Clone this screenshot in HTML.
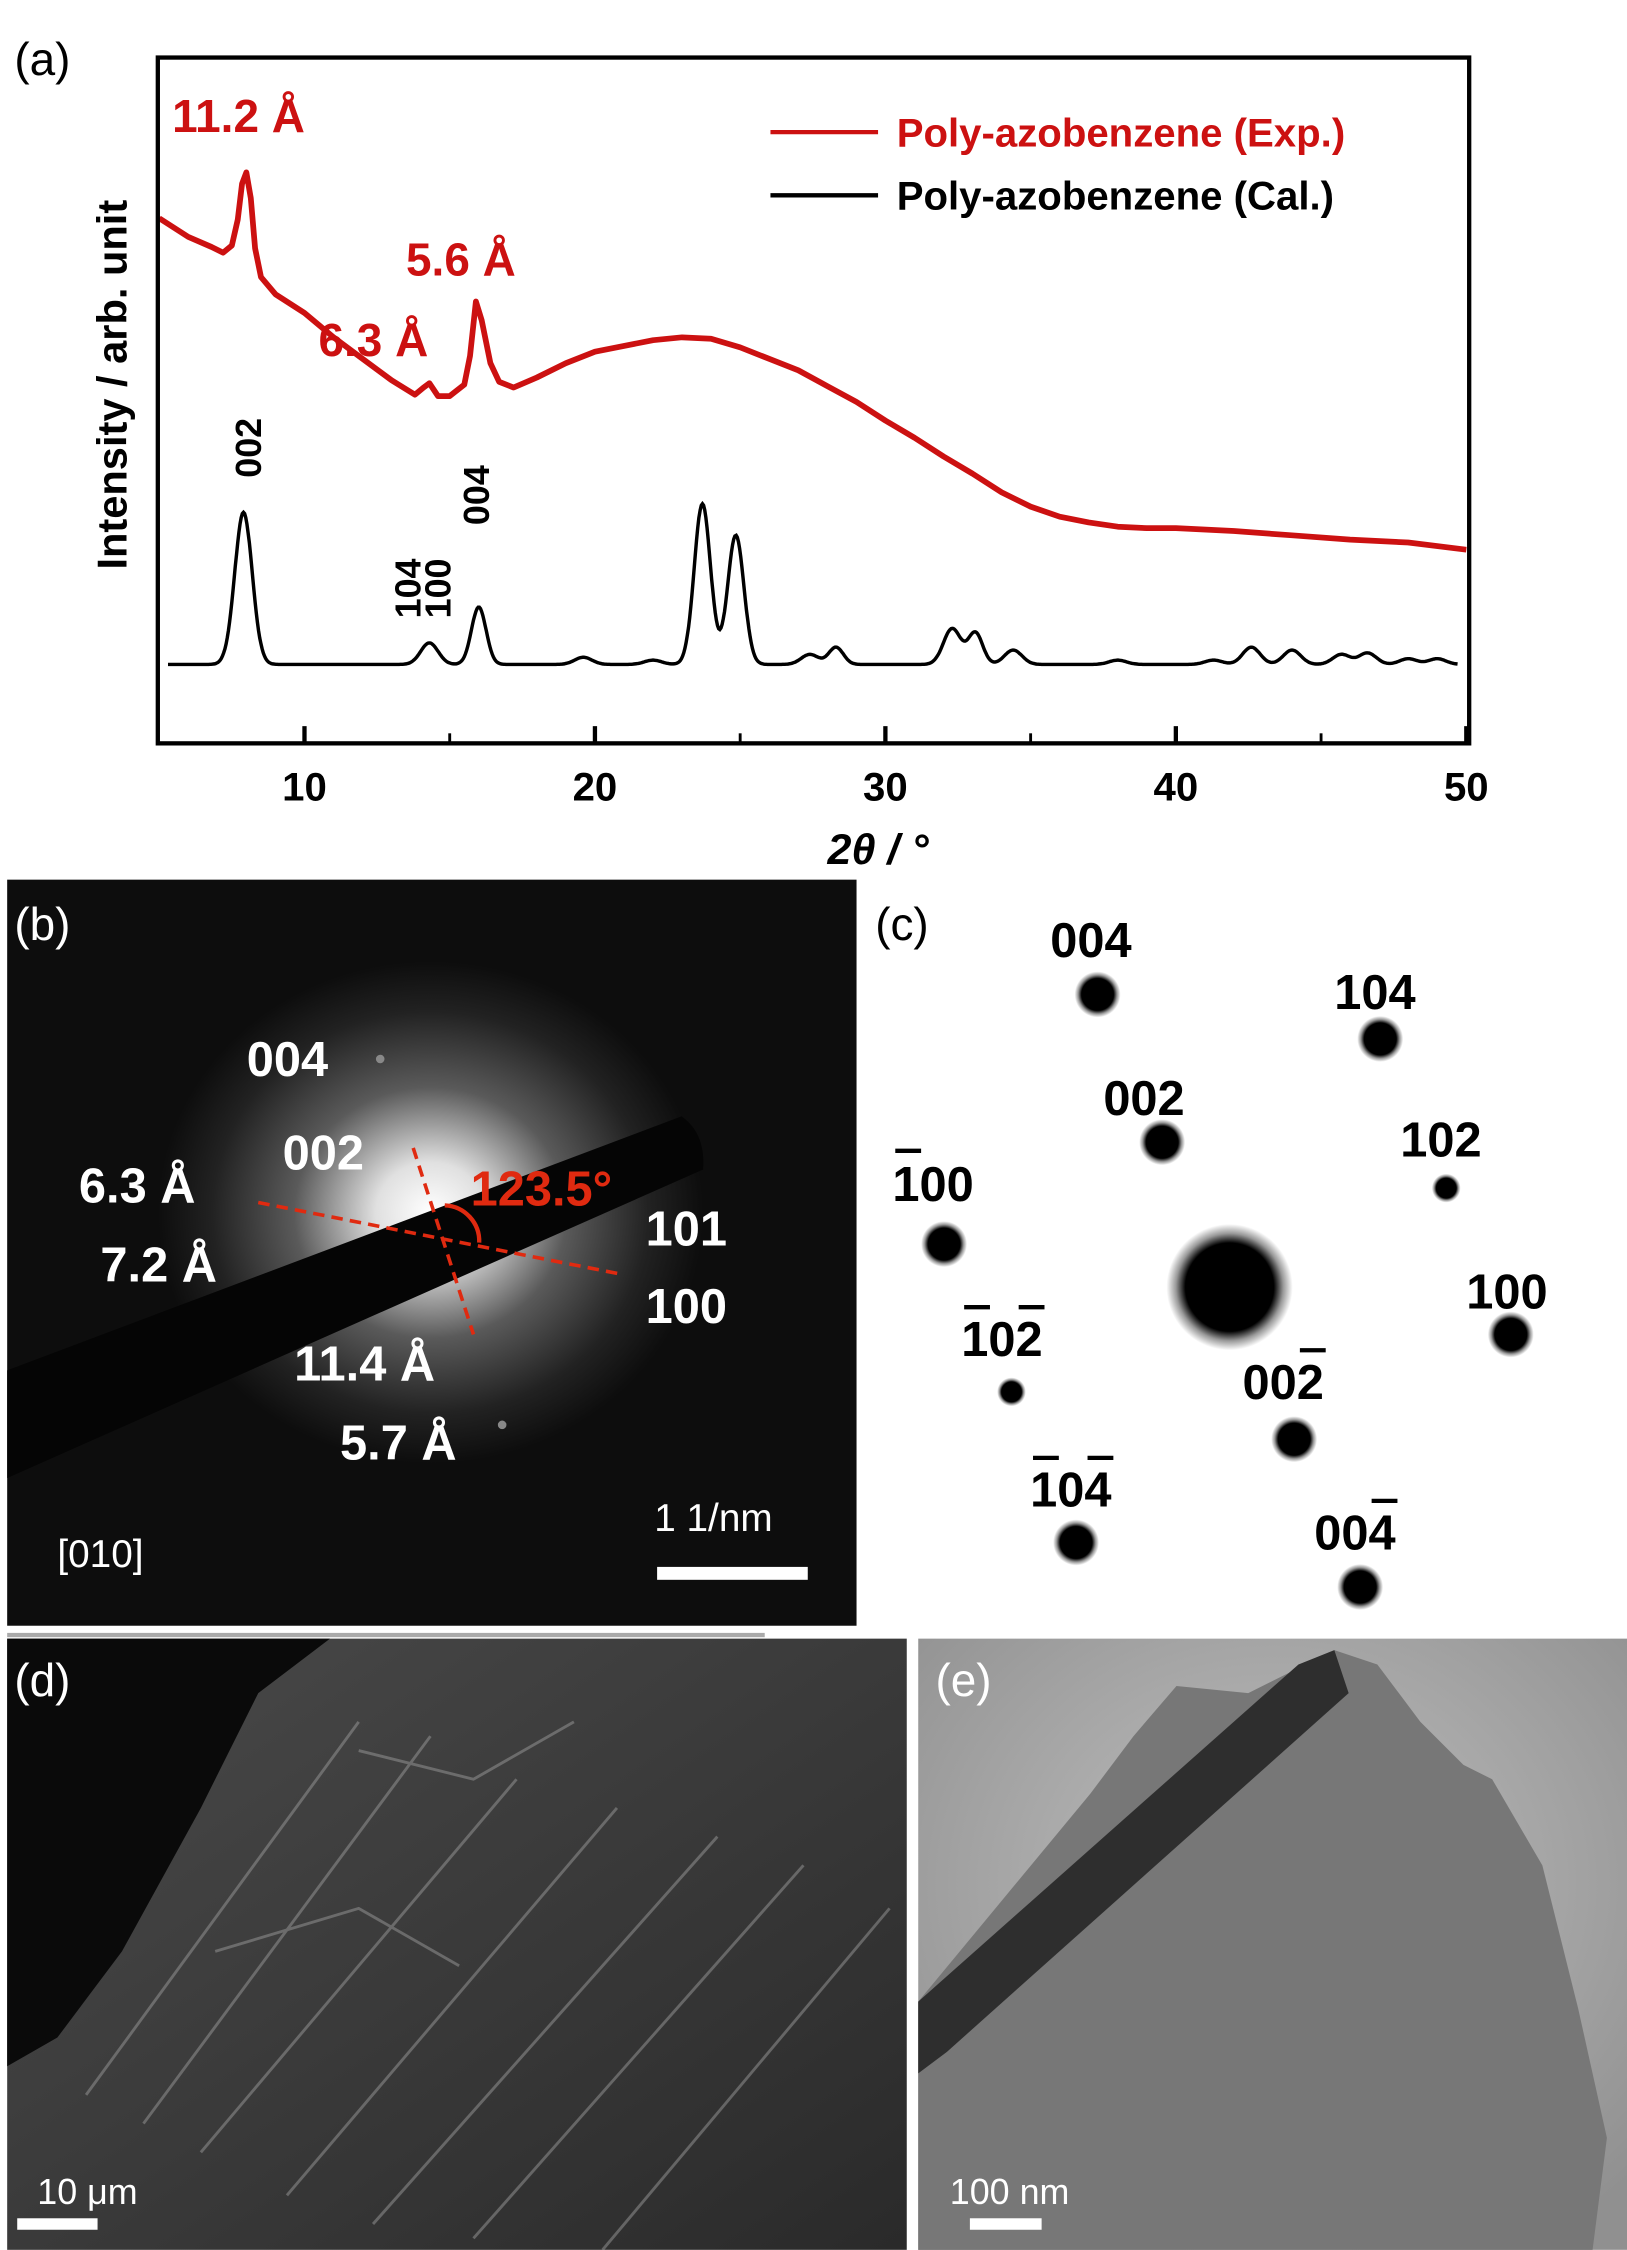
<!DOCTYPE html>
<html><head><meta charset="utf-8"><style>html,body{margin:0;padding:0;background:#fff}svg{display:block}</style></head>
<body>
<svg id="fig" width="1627" height="2250" viewBox="0 0 1134 1568" xmlns="http://www.w3.org/2000/svg" font-family="Liberation Sans, DejaVu Sans, sans-serif">
<defs>
<radialGradient id="glow" cx="0.5" cy="0.5" r="0.5">
<stop offset="0" stop-color="#fff"/><stop offset="0.2" stop-color="#e0e0e0"/><stop offset="0.5" stop-color="#5a5a5a"/><stop offset="0.8" stop-color="#222"/><stop offset="1" stop-color="#0d0d0d"/></radialGradient>
<radialGradient id="spot" cx="0.5" cy="0.5" r="0.5">
<stop offset="0" stop-color="#000"/><stop offset="0.7" stop-color="#000"/><stop offset="0.85" stop-color="#999"/><stop offset="1" stop-color="#fff"/></radialGradient>
<radialGradient id="tem" cx="0.5" cy="0.4" r="0.7">
<stop offset="0" stop-color="#c0c0c0"/><stop offset="1" stop-color="#909090"/></radialGradient>
<linearGradient id="sem" x1="0" y1="0" x2="1" y2="1">
<stop offset="0" stop-color="#4a4a4a"/><stop offset="0.5" stop-color="#3a3a3a"/><stop offset="1" stop-color="#2a2a2a"/></linearGradient>
</defs>

<g>
<text x="10" y="52" font-size="32">(a)</text>
<g id="plot"></g>
<rect x="110" y="40" width="914" height="478" fill="none" stroke="#000" stroke-width="3"/>
<g id="xticks"></g>
<text x="612" y="602" font-size="30" font-weight="bold" font-style="italic" text-anchor="middle">2θ / °</text>
<text transform="translate(88,268) rotate(-90)" font-size="29" font-weight="bold" text-anchor="middle">Intensity / arb. unit</text>
<g>
<line x1="537" y1="92" x2="612" y2="92" stroke="#cc1111" stroke-width="3"/>
<text x="625" y="102" font-size="28" font-weight="bold" fill="#cc1111">Poly-azobenzene (Exp.)</text>
<line x1="537" y1="136" x2="612" y2="136" stroke="#000" stroke-width="3"/>
<text x="625" y="146" font-size="28" font-weight="bold">Poly-azobenzene (Cal.)</text>
</g>
<text x="120" y="92" font-size="32" font-weight="bold" fill="#cc1111">11.2 Å</text>
<text x="283" y="192" font-size="32" font-weight="bold" fill="#cc1111">5.6 Å</text>
<text x="222" y="248" font-size="32" font-weight="bold" fill="#cc1111">6.3 Å</text>
<text transform="translate(182,312) rotate(-90)" font-size="25" font-weight="bold" text-anchor="middle">002</text>
<text transform="translate(293,410) rotate(-90)" font-size="25" font-weight="bold" text-anchor="middle">104</text>
<text transform="translate(314,410) rotate(-90)" font-size="25" font-weight="bold" text-anchor="middle">100</text>
<text transform="translate(341,345) rotate(-90)" font-size="25" font-weight="bold" text-anchor="middle">004</text>
</g>

<g>
<rect x="5" y="613" width="592" height="520" fill="#0d0d0d"/>
<ellipse cx="300" cy="845" rx="190" ry="175" fill="url(#glow)"/>
<circle cx="265" cy="738" r="3" fill="#888"/><circle cx="350" cy="993" r="3" fill="#888"/>
<path d="M5,955 L475,778 Q492,790 490,815 L5,1030 Z" fill="#050505"/>
<line x1="180" y1="838" x2="433" y2="888" stroke="#e02a10" stroke-width="2.5" stroke-dasharray="8,5"/>
<line x1="288" y1="800" x2="330" y2="930" stroke="#e02a10" stroke-width="2.5" stroke-dasharray="8,5"/>
<path d="M310,840 A25,25 0 0,1 334,866" fill="none" stroke="#e02a10" stroke-width="3"/>
<text x="328" y="840" font-size="34" font-weight="bold" fill="#e02a10">123.5°</text>
<g font-size="34" font-weight="bold" fill="#fff">
<text x="172" y="750">004</text>
<text x="197" y="815">002</text>
<text x="55" y="838">6.3 Å</text>
<text x="70" y="893">7.2 Å</text>
<text x="450" y="868">101</text>
<text x="450" y="922">100</text>
<text x="205" y="962">11.4 Å</text>
<text x="237" y="1017">5.7 Å</text>
</g>
<text x="10" y="655" font-size="32" fill="#fff">(b)</text>
<text x="40" y="1092" font-size="27" fill="#fff">[010]</text>
<text x="456" y="1067" font-size="27" fill="#fff">1 1/nm</text>
<rect x="458" y="1092" width="105" height="9" fill="#fff"/>
</g>

<g font-size="34" font-weight="bold">
<text x="610" y="655" font-size="32" font-weight="normal">(c)</text>
<circle cx="857" cy="897" r="44" fill="url(#spot)"/>
<circle cx="765" cy="693" r="16" fill="url(#spot)"/><circle cx="962" cy="724" r="16" fill="url(#spot)"/>
<circle cx="810" cy="796" r="16" fill="url(#spot)"/><circle cx="1008" cy="828" r="10" fill="url(#spot)"/>
<circle cx="658" cy="867" r="16" fill="url(#spot)"/><circle cx="1053" cy="930" r="16" fill="url(#spot)"/>
<circle cx="705" cy="970" r="10" fill="url(#spot)"/><circle cx="902" cy="1003" r="16" fill="url(#spot)"/>
<circle cx="750" cy="1075" r="16" fill="url(#spot)"/><circle cx="948" cy="1106" r="16" fill="url(#spot)"/>
<text x="732" y="667">004</text>
<text x="930" y="703">104</text>
<text x="769" y="777">002</text>
<text x="976" y="806">102</text>
<text x="622" y="837">100</text>
<line x1="624" y1="802" x2="642" y2="802" stroke="#000" stroke-width="3"/>
<text x="1022" y="912">100</text>
<text x="670" y="945">102</text>
<line x1="672" y1="911" x2="690" y2="911" stroke="#000" stroke-width="3"/><line x1="710" y1="911" x2="728" y2="911" stroke="#000" stroke-width="3"/>
<text x="866" y="975">002</text>
<line x1="906" y1="941" x2="924" y2="941" stroke="#000" stroke-width="3"/>
<text x="718" y="1050">104</text>
<line x1="720" y1="1016" x2="738" y2="1016" stroke="#000" stroke-width="3"/><line x1="758" y1="1016" x2="776" y2="1016" stroke="#000" stroke-width="3"/>
<text x="916" y="1080">004</text>
<line x1="956" y1="1046" x2="974" y2="1046" stroke="#000" stroke-width="3"/>
</g>

<g>
<rect x="5" y="1138" width="528" height="3" fill="#aaa"/>
<rect x="5" y="1142" width="627" height="426" fill="url(#sem)"/>
<path d="M5,1142 L230,1142 L180,1180 L140,1260 L85,1360 L40,1420 L5,1440 Z" fill="#0a0a0a"/>
<g stroke="#9a9a9a" stroke-width="2" opacity="0.5" fill="none">
<path d="M60,1460 L250,1200"/><path d="M100,1480 L300,1210"/><path d="M140,1500 L360,1240"/><path d="M200,1530 L430,1260"/><path d="M260,1550 L500,1280"/><path d="M330,1560 L560,1300"/><path d="M420,1568 L620,1330"/>
<path d="M150,1360 L250,1330 L320,1370"/><path d="M250,1220 L330,1240 L400,1200"/>
</g>
<text x="10" y="1182" font-size="32" fill="#fff">(d)</text>
<text x="26" y="1536" font-size="25" fill="#fff">10 μm</text>
<rect x="12" y="1546" width="56" height="8" fill="#fff"/>
</g>

<g>
<rect x="640" y="1142" width="494" height="426" fill="url(#tem)"/>
<path d="M640,1395 L760,1250 L790,1210 L820,1175 L870,1180 L930,1150 L960,1160 L990,1200 L1020,1230 L1040,1240 L1075,1300 L1100,1400 L1120,1490 L1110,1568 L640,1568 Z" fill="#777"/>
<path d="M640,1395 L905,1160 L930,1150 L940,1180 L660,1430 L640,1445 Z" fill="#2e2e2e"/>
<text x="652" y="1182" font-size="32" fill="#fff">(e)</text>
<text x="662" y="1536" font-size="25" fill="#fff">100 nm</text>
<rect x="676" y="1546" width="50" height="8" fill="#fff"/>
</g>
</svg>
<script>
const xTicks = [10, 20, 30, 40, 50];
const minorTicks = [15, 25, 35, 45];
const expX = [5,6,6.8,7.2,7.5,7.7,7.85,8.0,8.15,8.3,8.5,9,10,11,12,13,13.8,14.1,14.3,14.6,15,15.5,15.7,15.9,16.1,16.4,16.7,17.2,18,19,20,21,22,23,24,25,26,27,28,29,30,31,32,33,34,35,36,37,38,39,40,42,44,46,48,50];
const expY = [311,298,291,287,292,310,335,343,325,290,270,258,245,228,213,198,188,193,196,187,187,195,215,253,240,210,197,193,200,210,218,222,226,228,227,221,213,205,194,183,170,158,145,133,120,110,103,99,96,95,95,93,90,87,85,80];
const calPos = [7.9,14.3,16.0,19.6,22,23.7,24.85,27.4,28.3,32.3,33.1,34.4,38,41.3,42.6,44,45.7,46.6,48,49];
const calHeight = [106,15,40,5,3,112,90,7,12,25,22,10,3,3,12,10,7,8,4,4];
const calWidth = [0.3,0.3,0.25,0.3,0.3,0.28,0.28,0.3,0.25,0.3,0.25,0.3,0.3,0.3,0.3,0.3,0.3,0.3,0.3,0.3];
const NS='http://www.w3.org/2000/svg';
const xs = x => 111 + (x - 5) * (1022 - 111) / 45;
const ys = v => 463 - v;
const plot = document.getElementById('plot');
let d = expX.map((x,i)=>(i?'L':'M')+xs(x).toFixed(1)+','+ys(expY[i]).toFixed(1)).join(' ');
const red = document.createElementNS(NS,'path');


red.setAttribute('d', d); red.setAttribute('fill','none'); red.setAttribute('stroke','#cc1111'); red.setAttribute('stroke-width','4'); red.setAttribute('stroke-linejoin','round');
plot.appendChild(red);
let pts=[];
for(let x=5.3;x<=49.7;x+=0.04){let v=0;for(let k=0;k<calPos.length;k++){v+=calHeight[k]*Math.exp(-Math.pow((x-calPos[k])/calWidth[k],2)/2);}pts.push([x,v]);}
const blk = document.createElementNS(NS,'path');


blk.setAttribute('d', pts.map((p,i)=>(i?'L':'M')+xs(p[0]).toFixed(1)+','+ys(p[1]).toFixed(1)).join(' '));
blk.setAttribute('fill','none'); blk.setAttribute('stroke','#000'); blk.setAttribute('stroke-width','2.4');
plot.appendChild(blk);
const xt = document.getElementById('xticks');
xTicks.forEach(t=>{
 const l=document.createElementNS(NS,'line');
 
 
 l.setAttribute('x1',xs(t));l.setAttribute('x2',xs(t));l.setAttribute('y1',518);l.setAttribute('y2',506);l.setAttribute('stroke','#000');l.setAttribute('stroke-width','3');xt.appendChild(l);
 const tx=document.createElementNS(NS,'text');
 
 
 tx.setAttribute('x',xs(t));tx.setAttribute('y',558);tx.setAttribute('font-size','28');tx.setAttribute('font-weight','bold');tx.setAttribute('text-anchor','middle');tx.textContent=t;xt.appendChild(tx);
});
minorTicks.forEach(t=>{
 const l=document.createElementNS(NS,'line');
 
 
 l.setAttribute('x1',xs(t));l.setAttribute('x2',xs(t));l.setAttribute('y1',518);l.setAttribute('y2',511);l.setAttribute('stroke','#000');l.setAttribute('stroke-width','2');xt.appendChild(l);
});
</script>
</body></html>
